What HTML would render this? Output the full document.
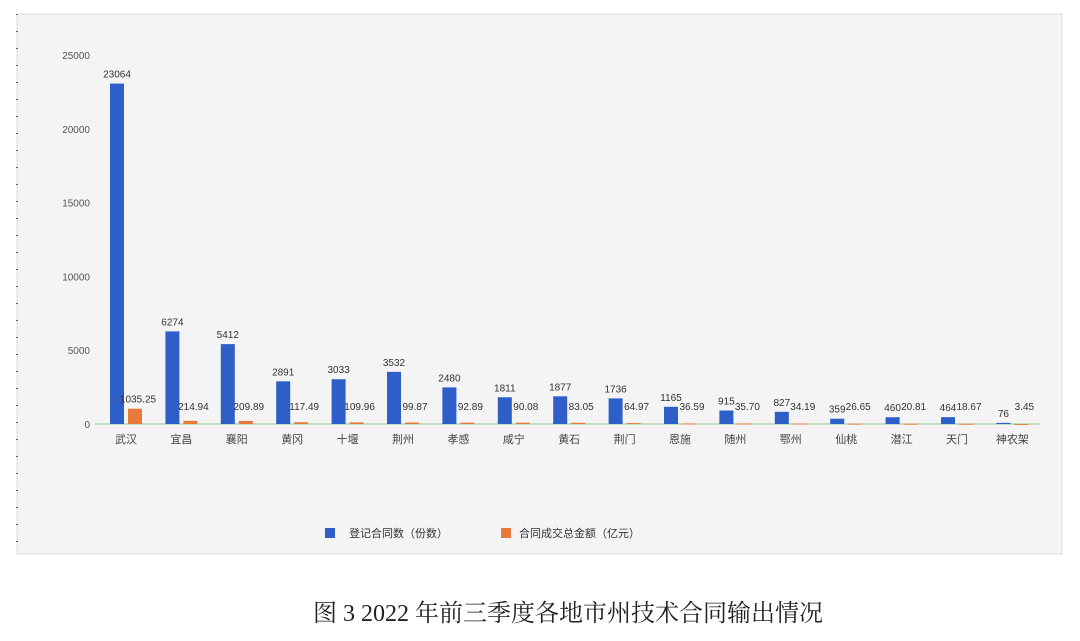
<!DOCTYPE html>
<html><head><meta charset="utf-8">
<style>
body{margin:0;background:#fff;width:1080px;height:636px;overflow:hidden;font-family:"Liberation Sans","Noto Sans CJK SC",sans-serif;}
</style></head>
<body>
<svg width="1080" height="636" xmlns="http://www.w3.org/2000/svg">
<rect x="17" y="14" width="1045" height="540" fill="#f4f4f4" stroke="#ddd"/>
<line x1="17" y1="14" x2="17" y2="554" stroke="#666" stroke-dasharray="1,16" stroke-width="2"/>
<g id="plot"></g>
<g>
<rect x="325" y="528" width="10" height="10" fill="#2e5fc8"/>
<text x="349" y="537" font-size="11" fill="#333">登记合同数（份数）</text>
<rect x="501" y="528" width="10" height="10" fill="#e8793a"/>
<text x="519" y="537" font-size="11" fill="#333">合同成交总金额（亿元）</text>
</g>
<text x="568" y="621" font-size="24" text-anchor="middle" fill="#222" font-family="'Liberation Serif','Noto Serif CJK SC',serif">图 3 2022 年前三季度各地市州技术合同输出情况</text>
</svg>
<script>
const categories=["武汉","宜昌","襄阳","黄冈","十堰","荆州","孝感","咸宁","黄石","荆门","恩施","随州","鄂州","仙桃","潜江","天门","神农架"];
const counts=[23064,6274,5412,2891,3033,3532,2480,1811,1877,1736,1165,915,827,359,460,464,76];
const amounts=[1035.25,214.94,209.89,117.49,109.96,99.87,92.89,90.08,83.05,64.97,36.59,35.70,34.19,26.65,20.81,18.67,3.45];
const amountLabels=["1035.25","214.94","209.89","117.49","109.96","99.87","92.89","90.08","83.05","64.97","36.59","35.70","34.19","26.65","20.81","18.67","3.45"];
const yTicks=[0,5000,10000,15000,20000,25000];
const NS="http://www.w3.org/2000/svg";
const g=document.getElementById('plot');
const y0=424,yTop=55,yMax=25000;
const y=v=>y0-(v/yMax)*(y0-yTop);
const x=i=>124+i*55.4;
function mk(t,a,txt){const e=document.createElementNS(NS,t);for(const k in a)e.setAttribute(k,a[k]);if(txt!==undefined)e.textContent=txt;g.appendChild(e);return e;}
yTicks.forEach(v=>{const t=mk('text',{x:90,y:y(v)+4,'font-size':10,'text-anchor':'end',fill:'#555'},v);

});
const ax=mk('line',{x1:95,y1:y0,x2:1040,y2:y0,stroke:'#8fc98f','stroke-width':1});


categories.forEach((c,i)=>{
 const cx=x(i);
 const b=mk('rect',{x:cx-14,y:y(counts[i]),width:14,height:y0-y(counts[i]),fill:'#2e5fc8'});
 
 
 const o=mk('rect',{x:cx+4,y:y(amounts[i]),width:14,height:Math.max(1,y0-y(amounts[i])),fill:'#e8793a'});
 
 
 const l1=mk('text',{x:cx-7,y:y(counts[i])-6,'font-size':10,'text-anchor':'middle',fill:'#333'},counts[i]);
 
 
 const ly=Math.min(y(amounts[i])-6,y0-14);
 const l2=mk('text',{x:cx+14,y:ly,'font-size':10,'text-anchor':'middle',fill:'#333'},amountLabels[i]);
 
 
 const cl=mk('text',{x:cx+2,y:443,'font-size':11,'text-anchor':'middle',fill:'#444'},c);
 
 
});
</script>
</body></html>
